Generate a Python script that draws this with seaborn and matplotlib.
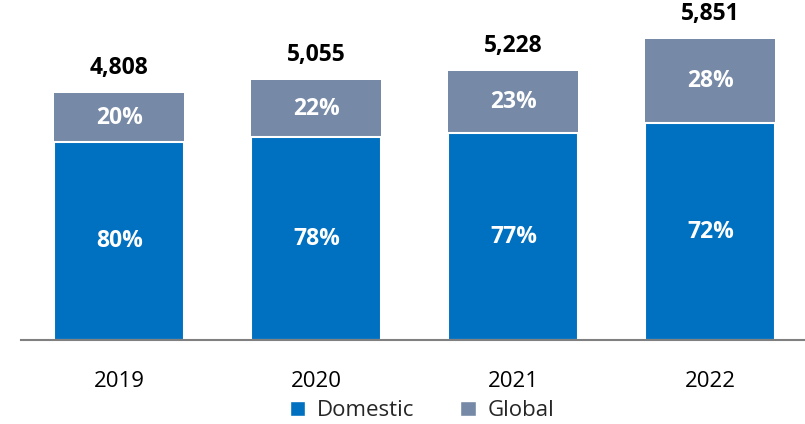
import matplotlib
matplotlib.use("Agg")
import matplotlib.pyplot as plt
import seaborn as sns
import pandas as pd
from matplotlib.patches import Patch

years = ["2019", "2020", "2021", "2022"]
totals = [4808, 5055, 5228, 5851]
domestic_pct = [80, 78, 77, 72]
global_pct = [20, 22, 23, 28]

domestic_vals = [t * p / 100 for t, p in zip(totals, domestic_pct)]

c_dom = "#0070C0"
c_glob = "#7689A6"

sns.set_theme(style="white")
plt.rcParams["font.family"] = ["Open Sans", "DejaVu Sans"]

df = pd.DataFrame({"year": years, "total": totals, "domestic": domestic_vals})

fig = plt.figure(figsize=(8.05, 4.24), dpi=100)
ax = fig.add_axes([21 / 805, 84 / 424, 1 - 21 / 805, 1 - 84 / 424])

sns.barplot(data=df, x="year", y="total", color=c_glob, width=0.66,
            saturation=1, ax=ax, edgecolor="none")
sns.barplot(data=df, x="year", y="domestic", color=c_dom, width=0.66,
            saturation=1, ax=ax, edgecolor="white", linewidth=1.5)

for i, (t, d, dp, gp) in enumerate(zip(totals, domestic_vals, domestic_pct, global_pct)):
    ax.text(i, d / 2, f"{dp}%", ha="center", va="center", color="white",
            fontsize=16.5, fontweight="bold")
    ax.text(i, d + (t - d) / 2, f"{gp}%", ha="center", va="center", color="white",
            fontsize=16.5, fontweight="bold")
    ax.annotate(f"{t:,}", (i, t), xytext=(0, 9.5), textcoords="offset points",
                ha="center", va="bottom", color="black", fontsize=16.5, fontweight="bold",
                annotation_clip=False)

ax.set_xlim(-0.5, 3.48)
ax.set_ylim(0, 6615)
ax.set_xlabel("")
ax.set_ylabel("")
ax.set_yticks([])
for s in ["top", "right", "left"]:
    ax.spines[s].set_visible(False)
ax.spines["bottom"].set_color("#808080")
ax.spines["bottom"].set_linewidth(1.5)
ax.tick_params(axis="x", length=0, pad=22, labelsize=16, colors="black")

handles = [Patch(facecolor=c_dom, label="Domestic"), Patch(facecolor=c_glob, label="Global")]
fig.legend(handles=handles, loc="center", bbox_to_anchor=(0.524, 0.031), ncol=2,
           frameon=False, fontsize=16, handlelength=0.7, handleheight=0.7,
           handletextpad=0.5, columnspacing=2.1, borderpad=0)

fig.savefig("out.png", dpi=100)
